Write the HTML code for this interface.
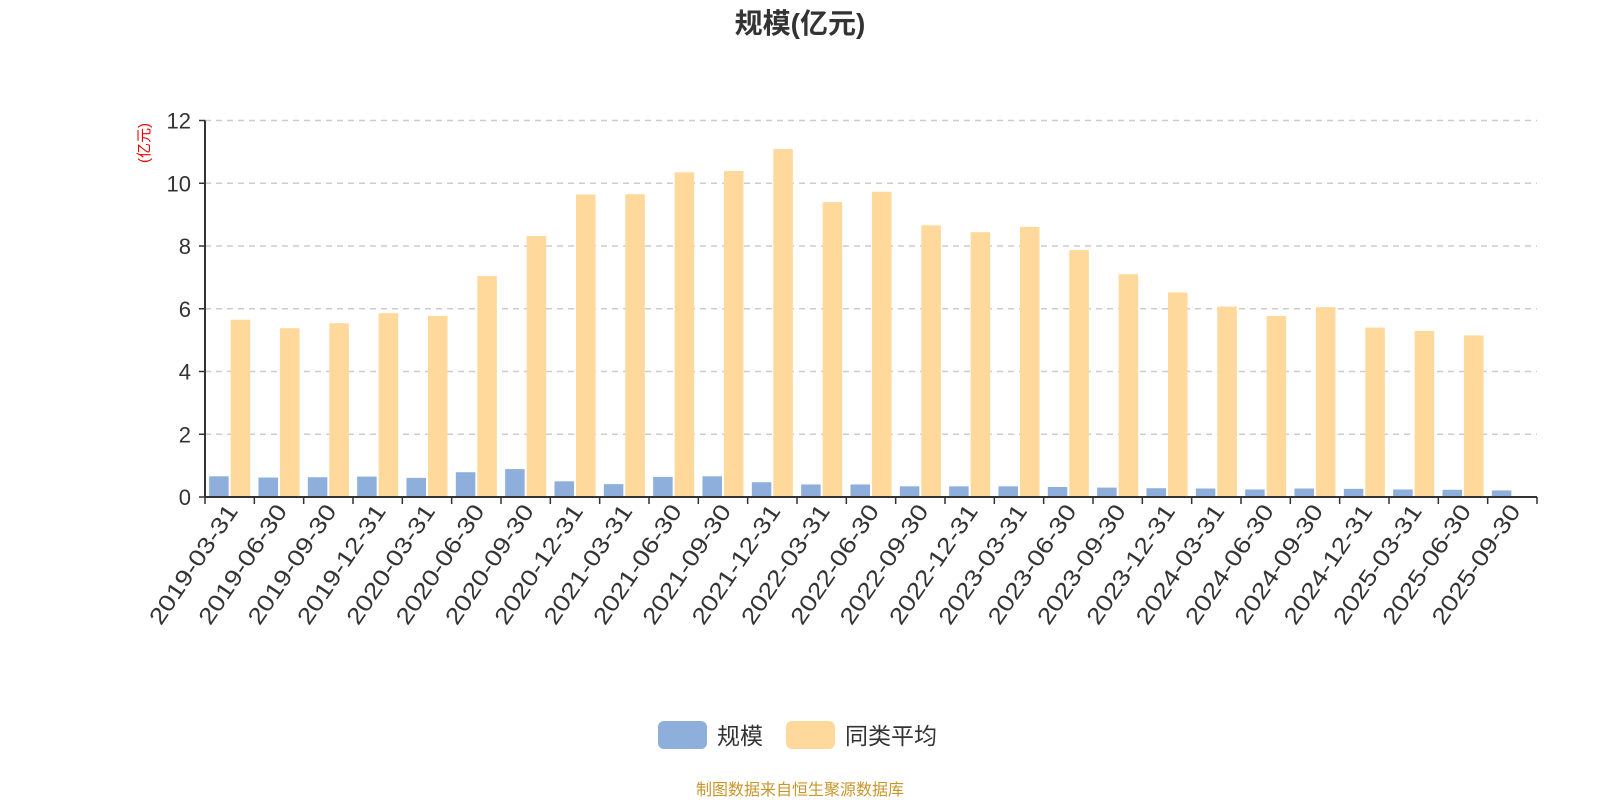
<!DOCTYPE html>
<html><head><meta charset="utf-8"><style>
body{margin:0;background:#fff;width:1600px;height:800px;overflow:hidden;font-family:"Liberation Sans","Noto Sans CJK SC",sans-serif}
</style></head><body>
<svg id="chart" width="1600" height="800" xmlns="http://www.w3.org/2000/svg" font-family="Liberation Sans, Noto Sans CJK SC, sans-serif">
<text x="800" y="33" text-anchor="middle" font-size="28" font-weight="bold" fill="#333">规模(亿元)</text>
<text transform="translate(149,143) rotate(-90)" text-anchor="middle" font-size="15" fill="#e00">(亿元)</text>
<g id="grid"></g><g id="bars"></g><g id="axes"></g>
<g>
<rect x="658" y="721" width="49" height="28" rx="6" fill="#8eaedb"/>
<text x="717" y="744" font-size="23" fill="#333">规模</text>
<rect x="786" y="721" width="49" height="28" rx="6" fill="#fed99b"/>
<text x="845" y="744" font-size="23" fill="#333">同类平均</text>
</g>
<text x="800" y="795" text-anchor="middle" font-size="16" fill="#c8962a">制图数据来自恒生聚源数据库</text>
</svg>
<script>
const categories=["2019-03-31","2019-06-30","2019-09-30","2019-12-31","2020-03-31","2020-06-30","2020-09-30","2020-12-31","2021-03-31","2021-06-30","2021-09-30","2021-12-31","2022-03-31","2022-06-30","2022-09-30","2022-12-31","2023-03-31","2023-06-30","2023-09-30","2023-12-31","2024-03-31","2024-06-30","2024-09-30","2024-12-31","2025-03-31","2025-06-30","2025-09-30"];
const scaleValues=[0.66,0.62,0.63,0.65,0.61,0.79,0.89,0.50,0.41,0.64,0.66,0.47,0.40,0.40,0.34,0.34,0.34,0.32,0.30,0.28,0.27,0.24,0.27,0.26,0.24,0.23,0.21];
const avgValues=[5.65,5.38,5.54,5.86,5.77,7.04,8.32,9.64,9.65,10.35,10.39,11.09,9.40,9.73,8.66,8.44,8.61,7.87,7.10,6.52,6.07,5.77,6.05,5.40,5.29,5.15,null];
const yTicks=[0,2,4,6,8,10,12];
const X0=205,X1=1537,Y0=497,Y1=120.5,YMAX=12;
const NS="http://www.w3.org/2000/svg";
const bw=(X1-X0)/categories.length;
function xc(i){return X0+bw*(i+0.5);}
function y(v){return Y0-(v/YMAX)*(Y0-Y1);}
function mk(tag,attrs,parent){const e=document.createElementNS(NS,tag);for(const k in attrs)e.setAttribute(k,attrs[k]);document.getElementById(parent).appendChild(e);return e;}
yTicks.forEach(t=>{
 if(t>0){const g=mk('line',{x1:X0,x2:X1,y1:y(t),y2:y(t),stroke:'#ccc','stroke-width':1.5,'stroke-dasharray':'6,5'},'grid');
 
 }
 const tk=mk('line',{x1:X0-6,x2:X0,y1:y(t),y2:y(t),stroke:'#333','stroke-width':1.5},'axes');
 
 
 const lb=mk('text',{x:X0-14,y:y(t)+8,'text-anchor':'end','font-size':22,fill:'#333'},'axes');lb.textContent=t;
 
 
});
const barW=19.5;
categories.forEach((c,i)=>{
 const cx=xc(i);
 if(scaleValues[i]!=null){const r=mk('rect',{x:cx-1-barW,y:y(scaleValues[i]),width:barW,height:Y0-y(scaleValues[i]),fill:'#8eaedb'},'bars');
 
 }
 if(avgValues[i]!=null){const r=mk('rect',{x:cx+1,y:y(avgValues[i]),width:barW,height:Y0-y(avgValues[i]),fill:'#fed99b'},'bars');
 
 }
 const tx=X0+bw*i;
 const tk=mk('line',{x1:tx,x2:tx,y1:Y0,y2:Y0+7,stroke:'#333','stroke-width':1.5},'axes');
 
 
 const lb=mk('text',{transform:`translate(${cx+9},${Y0+14}) rotate(-56)`,'text-anchor':'end','font-size':23,textLength:139,lengthAdjust:'spacingAndGlyphs',fill:'#333'},'axes');lb.textContent=c;
 
 
});
const te=mk('line',{x1:X1,x2:X1,y1:Y0,y2:Y0+7,stroke:'#333','stroke-width':1.5},'axes');


const xa=mk('line',{x1:X0,x2:X1,y1:Y0,y2:Y0,stroke:'#333','stroke-width':2},'axes');


const ya=mk('line',{x1:X0,x2:X0,y1:Y1,y2:Y0,stroke:'#333','stroke-width':2},'axes');


</script>
</body></html>
